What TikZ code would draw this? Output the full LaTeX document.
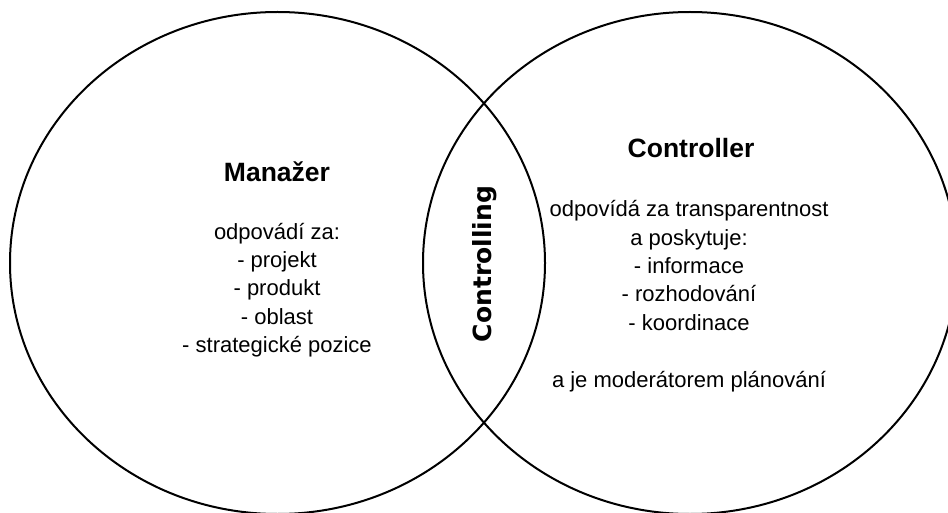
\documentclass[tikz,border=0pt]{standalone}
\usepackage{fontspec}
\setmainfont{Liberation Sans}
\newfontfamily\lensfont{DejaVu Sans}
\usetikzlibrary{positioning}

\tikzset{
    set/.style={line width=2pt},
    title/.style={font=\fontsize{26.5}{30}\selectfont\bfseries},
    body/.style={align=center,font=\fontsize{22}{28.4}\selectfont},
    lens/.style={rotate=90,font=\lensfont\fontsize{25}{28}\selectfont\bfseries}
}

\begin{document}
\begin{tikzpicture}[x=1pt,y=-1pt]
    \useasboundingbox (0,0) rectangle (948,513);
    \clip (0,0) rectangle (948,513);
    % the two sets
    \draw[set] (277.5,263) ellipse [x radius=267.5, y radius=251];
    \draw[set] (690,263) ellipse [x radius=267, y radius=251];
    % left set
    \node[title] (manazer) at (277,172) {Manažer};
    \node[body] (manazerlist) at (277,290) {odpovádí za:\\- projekt\\- produkt\\- oblast\\- strategické pozice};
    % right set
    \node[title] (controller) at (691,148) {Controller};
    \node[body] (controllerlist) at (689,296) {odpovídá za transparentnost\\a poskytuje:\\- informace\\- rozhodování\\- koordinace\\[28.4pt]a je moderátorem plánování};
    % overlap
    \node[lens] (controlling) at (485,264) {Controlling};
\end{tikzpicture}
\end{document}
